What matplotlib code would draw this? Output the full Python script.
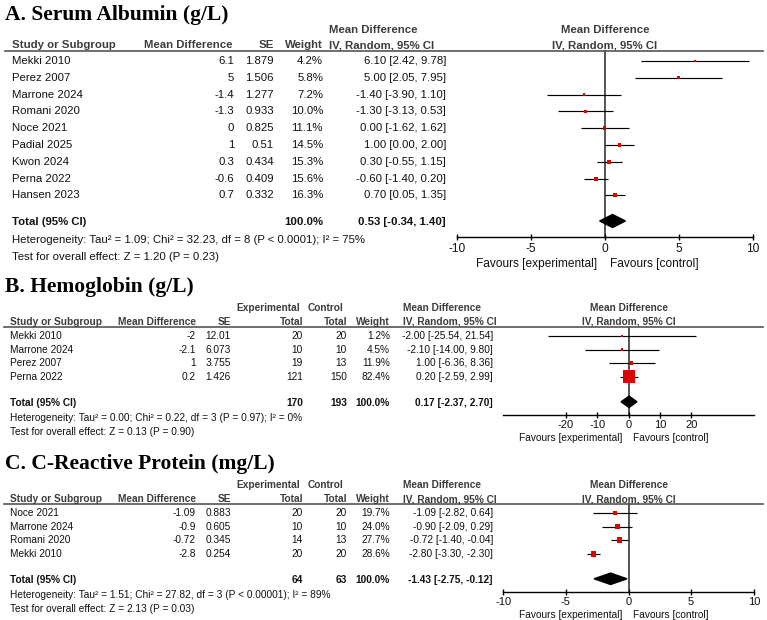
import matplotlib
matplotlib.use("Agg")
import matplotlib.pyplot as plt

plt.rcParams['font.family'] = ['Liberation Sans', 'DejaVu Sans']

# ---- A. Serum Albumin (g/L) ----
a_study = ["Mekki 2010", "Perez 2007", "Marrone 2024", "Romani 2020", "Noce 2021",
           "Padial 2025", "Kwon 2024", "Perna 2022", "Hansen 2023"]
a_md = [6.1, 5, -1.4, -1.3, 0, 1, 0.3, -0.6, 0.7]
a_se = [1.879, 1.506, 1.277, 0.933, 0.825, 0.51, 0.434, 0.409, 0.332]
a_weight = [4.2, 5.8, 7.2, 10.0, 11.1, 14.5, 15.3, 15.6, 16.3]
a_lo = [2.42, 2.05, -3.90, -3.13, -1.62, 0.00, -0.55, -1.40, 0.05]
a_hi = [9.78, 7.95, 1.10, 0.53, 1.62, 2.00, 1.15, 0.20, 1.35]
a_total = [0.53, -0.34, 1.40]
a_het = "Heterogeneity: Tau² = 1.09; Chi² = 32.23, df = 8 (P < 0.0001); I² = 75%"
a_test = "Test for overall effect: Z = 1.20 (P = 0.23)"
a_ticks = [-10, -5, 0, 5, 10]

# ---- B. Hemoglobin (g/L) ----
b_study = ["Mekki 2010", "Marrone 2024", "Perez 2007", "Perna 2022"]
b_md = [-2, -2.1, 1, 0.2]
b_se = [12.01, 6.073, 3.755, 1.426]
b_exp = [20, 10, 19, 121]
b_ctrl = [20, 10, 13, 150]
b_weight = [1.2, 4.5, 11.9, 82.4]
b_lo = [-25.54, -14.00, -6.36, -2.59]
b_hi = [21.54, 9.80, 8.36, 2.99]
b_total = [0.17, -2.37, 2.70]
b_n = [170, 193]
b_het = "Heterogeneity: Tau² = 0.00; Chi² = 0.22, df = 3 (P = 0.97); I² = 0%"
b_test = "Test for overall effect: Z = 0.13 (P = 0.90)"
b_ticks = [-20, -10, 0, 10, 20]

# ---- C. C-Reactive Protein (mg/L) ----
c_study = ["Noce 2021", "Marrone 2024", "Romani 2020", "Mekki 2010"]
c_md = [-1.09, -0.9, -0.72, -2.8]
c_se = [0.883, 0.605, 0.345, 0.254]
c_exp = [20, 10, 14, 20]
c_ctrl = [20, 10, 13, 20]
c_weight = [19.7, 24.0, 27.7, 28.6]
c_lo = [-2.82, -2.09, -1.40, -3.30]
c_hi = [0.64, 0.29, -0.04, -2.30]
c_total = [-1.43, -2.75, -0.12]
c_n = [64, 63]
c_het = "Heterogeneity: Tau² = 1.51; Chi² = 27.82, df = 3 (P < 0.00001); I² = 89%"
c_test = "Test for overall effect: Z = 2.13 (P = 0.03)"
c_ticks = [-10, -5, 0, 5, 10]

W, H = 767, 620
RED = '#e00000'
HDR = '#3c3c3c'
TXT = '#111111'

fig = plt.figure(figsize=(W / 100, H / 100), dpi=100)
bg = fig.add_axes([0, 0, 1, 1])
bg.set_xlim(0, W)
bg.set_ylim(H, 0)
bg.axis('off')


def ci_text(m, lo, hi):
    return f"{m:.2f} [{lo:.2f}, {hi:.2f}]"


def forest(x0, x1, lim, ticks, axis_y, line_y, rows, md, lo, hi, wt, tot, tot_y,
           dh, fs):
    ax = fig.add_axes([x0 / W, 0, (x1 - x0) / W, 1])
    ax.set_xlim(*lim)
    ax.set_ylim(H, 0)
    ax.patch.set_alpha(0)
    for s in ['left', 'right', 'top']:
        ax.spines[s].set_visible(False)
    ax.yaxis.set_visible(False)
    ax.spines['bottom'].set_position(('data', axis_y))
    ax.spines['bottom'].set_linewidth(1.0)
    ax.set_xticks(ticks)
    ax.set_xticklabels([f"{t:g}" for t in ticks])
    ax.tick_params(axis='x', direction='inout', length=5, width=1.0, pad=1.5,
                   labelsize=fs, labelcolor=TXT)
    ax.plot([0, 0], [line_y, axis_y], color='#555555', lw=1.4, zorder=1)
    ax.hlines(rows, lo, hi, color='black', lw=0.85, zorder=2)
    # square side grows with study weight
    sizes = [((2.0 + 0.13 * w) * 0.72) ** 2 for w in wt]
    ax.scatter(md, rows, s=sizes, marker='s', color=RED, linewidths=0, zorder=3)
    m, l, h = tot
    ax.fill([l, m, h, m], [tot_y, tot_y - dh, tot_y, tot_y + dh], color='black', zorder=3)
    return ax


# ================= Panel A =================
fa = 8.2
bg.text(5, 15, "A. Serum Albumin (g/L)", family='Liberation Serif', weight='bold',
        fontsize=15.5, va='center', ha='left', color='black')
a_rows = [61 + 16.8 * i for i in range(len(a_study))]
a_tot_y, a_het_y, a_test_y = 222, 240, 257
bg.text(329, 30, "Mean Difference", fontsize=fa, weight='bold', color=HDR, va='center')
bg.text(605, 30, "Mean Difference", fontsize=fa, weight='bold', color=HDR, va='center', ha='center')
hy = 45.5
bg.text(12, hy, "Study or Subgroup", fontsize=fa, weight='bold', color=HDR, va='center')
bg.text(233, hy, "Mean Difference", fontsize=fa, weight='bold', color=HDR, va='center', ha='right')
bg.text(274, hy, "SE", fontsize=fa, weight='bold', color=HDR, va='center', ha='right')
bg.text(323, hy, "Weight", fontsize=fa, weight='bold', color=HDR, va='center', ha='right')
bg.text(329, hy, "IV, Random, 95% CI", fontsize=fa, weight='bold', color=HDR, va='center')
bg.text(605, hy, "IV, Random, 95% CI", fontsize=fa, weight='bold', color=HDR, va='center', ha='center')
bg.plot([5, 763], [51, 51], color='#555555', lw=1.2)
for i, y in enumerate(a_rows):
    bg.text(12, y, a_study[i], fontsize=fa, color=TXT, va='center')
    bg.text(234, y, f"{a_md[i]:g}", fontsize=fa, color=TXT, va='center', ha='right')
    bg.text(274, y, f"{a_se[i]:g}", fontsize=fa, color=TXT, va='center', ha='right')
    bg.text(323, y, f"{a_weight[i]:.1f}%", fontsize=fa, color=TXT, va='center', ha='right')
    bg.text(446, y, ci_text(a_md[i], a_lo[i], a_hi[i]), fontsize=fa, color=TXT, va='center', ha='right')
bg.text(12, a_tot_y, "Total (95% CI)", fontsize=fa, weight='bold', color=TXT, va='center')
bg.text(323, a_tot_y, "100.0%", fontsize=fa, weight='bold', color=TXT, va='center', ha='right')
bg.text(446, a_tot_y, ci_text(*a_total), fontsize=fa, weight='bold', color=TXT, va='center', ha='right')
bg.text(12, a_het_y, a_het, fontsize=fa, color=TXT, va='center')
bg.text(12, a_test_y, a_test, fontsize=fa, color=TXT, va='center')
forest(456.7, 752.7, (-10, 10), a_ticks, 237, 51, a_rows, a_md, a_lo, a_hi, a_weight,
       a_total, a_tot_y - 1, 6.5, 8.6)
bg.text(597, 264, "Favours [experimental]", fontsize=8.6, color=TXT, va='center', ha='right')
bg.text(610, 264, "Favours [control]", fontsize=8.6, color=TXT, va='center', ha='left')


# ================= Panels B and C =================
def small_panel(top, title, study, md, se, exp, ctrl, wt, lo, hi, total, n, het, test,
                lim, ticks):
    fb = 7.3
    t_y, h1, h2, ln = top, top + 21, top + 35, top + 40
    rows = [ln + 9 + 13.6 * i for i in range(len(study))]
    tot_y = rows[-1] + 26
    axis_y = tot_y + 12
    bg.text(5, t_y, title, family='Liberation Serif', weight='bold', fontsize=15.5,
            va='center', ha='left', color='black')
    bg.text(236, h1, "Experimental", fontsize=fb, weight='bold', color=HDR, va='center')
    bg.text(308, h1, "Control", fontsize=fb, weight='bold', color=HDR, va='center')
    bg.text(403, h1, "Mean Difference", fontsize=fb, weight='bold', color=HDR, va='center')
    bg.text(628.5, h1, "Mean Difference", fontsize=fb, weight='bold', color=HDR, va='center', ha='center')
    bg.text(10, h2, "Study or Subgroup", fontsize=fb, weight='bold', color=HDR, va='center')
    bg.text(196, h2, "Mean Difference", fontsize=fb, weight='bold', color=HDR, va='center', ha='right')
    bg.text(231, h2, "SE", fontsize=fb, weight='bold', color=HDR, va='center', ha='right')
    bg.text(303, h2, "Total", fontsize=fb, weight='bold', color=HDR, va='center', ha='right')
    bg.text(347, h2, "Total", fontsize=fb, weight='bold', color=HDR, va='center', ha='right')
    bg.text(390, h2, "Weight", fontsize=fb, weight='bold', color=HDR, va='center', ha='right')
    bg.text(403, h2, "IV, Random, 95% CI", fontsize=fb, weight='bold', color=HDR, va='center')
    bg.text(628.5, h2, "IV, Random, 95% CI", fontsize=fb, weight='bold', color=HDR, va='center', ha='center')
    bg.plot([4, 763], [ln, ln], color='#555555', lw=1.2)
    for i, y in enumerate(rows):
        bg.text(10, y, study[i], fontsize=fb, color=TXT, va='center')
        bg.text(196, y, f"{md[i]:g}", fontsize=fb, color=TXT, va='center', ha='right')
        bg.text(231, y, f"{se[i]:g}", fontsize=fb, color=TXT, va='center', ha='right')
        bg.text(303, y, str(exp[i]), fontsize=fb, color=TXT, va='center', ha='right')
        bg.text(347, y, str(ctrl[i]), fontsize=fb, color=TXT, va='center', ha='right')
        bg.text(390, y, f"{wt[i]:.1f}%", fontsize=fb, color=TXT, va='center', ha='right')
        bg.text(493, y, ci_text(md[i], lo[i], hi[i]), fontsize=fb, color=TXT, va='center', ha='right')
    bg.text(10, tot_y, "Total (95% CI)", fontsize=fb, weight='bold', color=TXT, va='center')
    bg.text(303, tot_y, str(n[0]), fontsize=fb, weight='bold', color=TXT, va='center', ha='right')
    bg.text(347, tot_y, str(n[1]), fontsize=fb, weight='bold', color=TXT, va='center', ha='right')
    bg.text(390, tot_y, "100.0%", fontsize=fb, weight='bold', color=TXT, va='center', ha='right')
    bg.text(493, tot_y, ci_text(*total), fontsize=fb, weight='bold', color=TXT, va='center', ha='right')
    bg.text(10, tot_y + 15, het, fontsize=fb, color=TXT, va='center')
    bg.text(10, tot_y + 29, test, fontsize=fb, color=TXT, va='center')
    span = 125.3 / lim[1]
    forest(628.5 - span * abs(lim[0]), 628.5 + span * lim[1], lim, ticks, axis_y, ln,
           rows, md, lo, hi, wt, total, tot_y - 1, 5.7, 8.0)
    bg.text(622, axis_y + 23, "Favours [experimental]", fontsize=fb, color=TXT, va='center', ha='right')
    bg.text(633, axis_y + 23, "Favours [control]", fontsize=fb, color=TXT, va='center', ha='left')


small_panel(287, "B. Hemoglobin (g/L)", b_study, b_md, b_se, b_exp, b_ctrl, b_weight,
            b_lo, b_hi, b_total, b_n, b_het, b_test, (-40, 40), b_ticks)
small_panel(464, "C. C-Reactive Protein (mg/L)", c_study, c_md, c_se, c_exp, c_ctrl, c_weight,
            c_lo, c_hi, c_total, c_n, c_het, c_test, (-10, 10), c_ticks)

fig.savefig("out.png", dpi=100)
